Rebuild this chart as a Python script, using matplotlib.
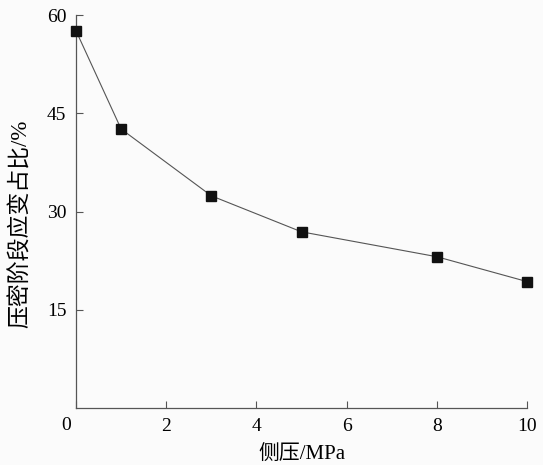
import matplotlib.pyplot as plt

# 侧压 (MPa) 与 压密阶段应变占比 (%)
side_pressure = [0, 1, 3, 5, 8, 10]
compaction_ratio = [57.6, 42.6, 32.4, 26.9, 23.1, 19.3]

x_ticks = [0, 2, 4, 6, 8, 10]
y_ticks = [15, 30, 45, 60]

plt.rcParams['font.family'] = ['Liberation Serif', 'Noto Sans CJK SC']

fig = plt.figure(figsize=(5.43, 4.65), dpi=100, facecolor='#fbfbfb')
ax = fig.add_axes([0.14, 0.1226, 0.8306, 0.845])
ax.set_facecolor('#fbfbfb')

ax.plot(side_pressure, compaction_ratio, color='#555555', lw=0.8,
        marker='s', markersize=6.5, markerfacecolor='#111111',
        markeredgecolor='#111111', clip_on=False, zorder=3)

ax.set_xlim(0, 10)
ax.set_ylim(0, 60)
ax.set_xticks(x_ticks)
ax.set_xticklabels([''] + [str(t) for t in x_ticks[1:]])
ax.set_yticks(y_ticks)
ax.tick_params(direction='in', length=5, width=0.8, color='#555555',
               labelsize=14, pad=7)

for s in ['top', 'right']:
    ax.spines[s].set_visible(False)
for s in ['left', 'bottom']:
    ax.spines[s].set_color('#555555')
    ax.spines[s].set_linewidth(0.9)

# 原点处的 "0"
ax.text(-0.22, -1.3, '0', ha='center', va='top', fontsize=14,
        transform=ax.transData)

ax.set_xlabel('侧压/MPa', fontsize=15, labelpad=8)
ax.set_ylabel('压密阶段应变占比/%', fontsize=16.5)
ax.yaxis.set_label_coords(-0.097, 0.47)

fig.savefig('out.png', dpi=100, facecolor=fig.get_facecolor())
